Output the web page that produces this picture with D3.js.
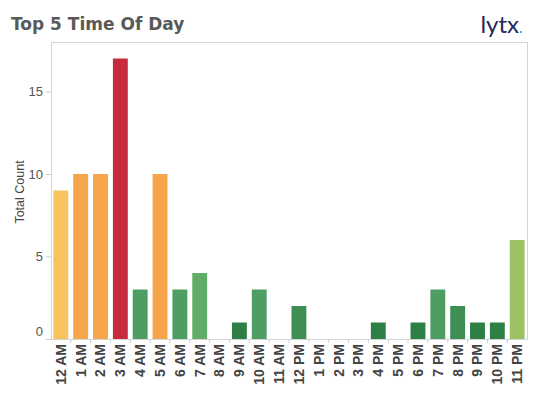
<!DOCTYPE html>
<html>
<head>
<meta charset="utf-8">
<script src="https://cdn.jsdelivr.net/npm/d3@7"></script>
<style>
  body { margin: 0; background: #fff; }
  svg { display: block; }
</style>
</head>
<body>
<svg width="539" height="394"></svg>
<script>
// hours of the day, as shown on the x axis
const hours = ['12 AM', '1 AM', '2 AM', '3 AM', '4 AM', '5 AM', '6 AM', '7 AM', '8 AM', '9 AM', '10 AM', '11 AM',
  '12 PM', '1 PM', '2 PM', '3 PM', '4 PM', '5 PM', '6 PM', '7 PM', '8 PM', '9 PM', '10 PM', '11 PM'];
const counts = [9, 10, 10, 17, 3, 10, 3, 4, 0, 1, 3, 0, 2, 0, 0, 0, 1, 0, 1, 3, 2, 1, 1, 6];
const yTicks = [0, 5, 10, 15];

const margin = { top: 42, right: 12, bottom: 55, left: 51 };
const width = 539 - margin.left - margin.right;
const height = 394 - margin.top - margin.bottom;

const svg = d3.select('svg');

// title + logo
svg.append('text')
  .attr('x', 11)
  .attr('y', 30)
  .attr('fill', '#595959')
  .style('font-family', 'DejaVu Sans, Verdana, sans-serif')
  .style('font-weight', 'bold')
  .style('font-size', '17px')
  .text('Top 5 Time Of Day');

svg.append('text')
  .attr('x', 519)
  .attr('y', 33)
  .attr('text-anchor', 'end')
  .attr('fill', '#26285a')
  .style('font-family', 'Lato, Open Sans, sans-serif')
  .style('font-size', '24px')
  .text('lytx');
svg.append('rect')
  .attr('x', 520)
  .attr('y', 31)
  .attr('width', 2)
  .attr('height', 2)
  .attr('fill', '#3bb7c9');

const x = d3.scaleBand()
  .domain(hours)
  .range([0, width])
  .paddingInner(0.25)
  .paddingOuter(0.12);

const y = d3.scaleLinear()
  .domain([0, 18])
  .range([height, 0]);

// colour by value, green (low) -> red (high)
const color = d3.scaleLinear()
  .domain([1, 2, 3, 4, 6, 9, 10, 17])
  .range(['#2e7f46', '#3f8f55', '#4e9d62', '#62ad66', '#9cc264', '#f8c25c', '#f6a54b', '#c52a3e'])
  .clamp(true);

const g = svg.append('g')
  .attr('transform', 'translate(' + margin.left + ',' + margin.top + ')');

// frame
g.append('rect')
  .attr('x', 0.5)
  .attr('y', 0.5)
  .attr('width', width)
  .attr('height', height)
  .attr('fill', 'none')
  .attr('stroke', '#d4d4d4');

// bars
g.selectAll('.bar')
  .data(counts)
  .enter().append('rect')
    .attr('class', 'bar')
    .attr('x', (d, i) => x(hours[i]))
    .attr('y', (d) => y(d))
    .attr('width', x.bandwidth())
    .attr('height', (d) => y(0) - y(d))
    .attr('fill', (d) => color(d));

// y axis
const yAxis = g.append('g')
  .attr('class', 'y axis')
  .call(d3.axisLeft(y).tickValues(yTicks).tickSize(5).tickPadding(3));
yAxis.select('.domain').remove();
yAxis.selectAll('line').attr('stroke', '#ccc');
yAxis.selectAll('text')
  .attr('fill', '#555')
  .style('font-family', 'Liberation Sans, Arial, sans-serif')
  .style('font-size', '13px')
  .attr('dy', (d) => d === 0 ? '-0.3em' : '0.32em');

g.append('text')
  .attr('transform', 'rotate(-90)')
  .attr('x', -150)
  .attr('y', -27)
  .attr('text-anchor', 'middle')
  .attr('fill', '#444')
  .style('font-family', 'Liberation Sans, Arial, sans-serif')
  .style('font-size', '12.5px')
  .text('Total Count');

// x axis
const xAxis = g.append('g')
  .attr('class', 'x axis')
  .attr('transform', 'translate(0,' + height + ')')
  .call(d3.axisBottom(x).tickSize(0));
xAxis.select('.domain').attr('stroke', '#d4d4d4');
xAxis.selectAll('text')
  .attr('transform', 'rotate(-90)')
  .attr('x', -5)
  .attr('y', 0)
  .attr('dy', '0.35em')
  .attr('text-anchor', 'end')
  .attr('fill', '#444')
  .style('font-family', 'Liberation Sans, Arial, sans-serif')
  .style('font-weight', 'bold')
  .style('font-size', '14px');

// small separators between categories
const step = x.step();
g.selectAll('.sep')
  .data(hours.slice(1))
  .enter().append('line')
    .attr('class', 'sep')
    .attr('x1', (d) => x(d) - (step - x.bandwidth()) / 2)
    .attr('x2', (d) => x(d) - (step - x.bandwidth()) / 2)
    .attr('y1', height)
    .attr('y2', height + 4)
    .attr('stroke', '#c8d3dc');
</script>
</body>
</html>
